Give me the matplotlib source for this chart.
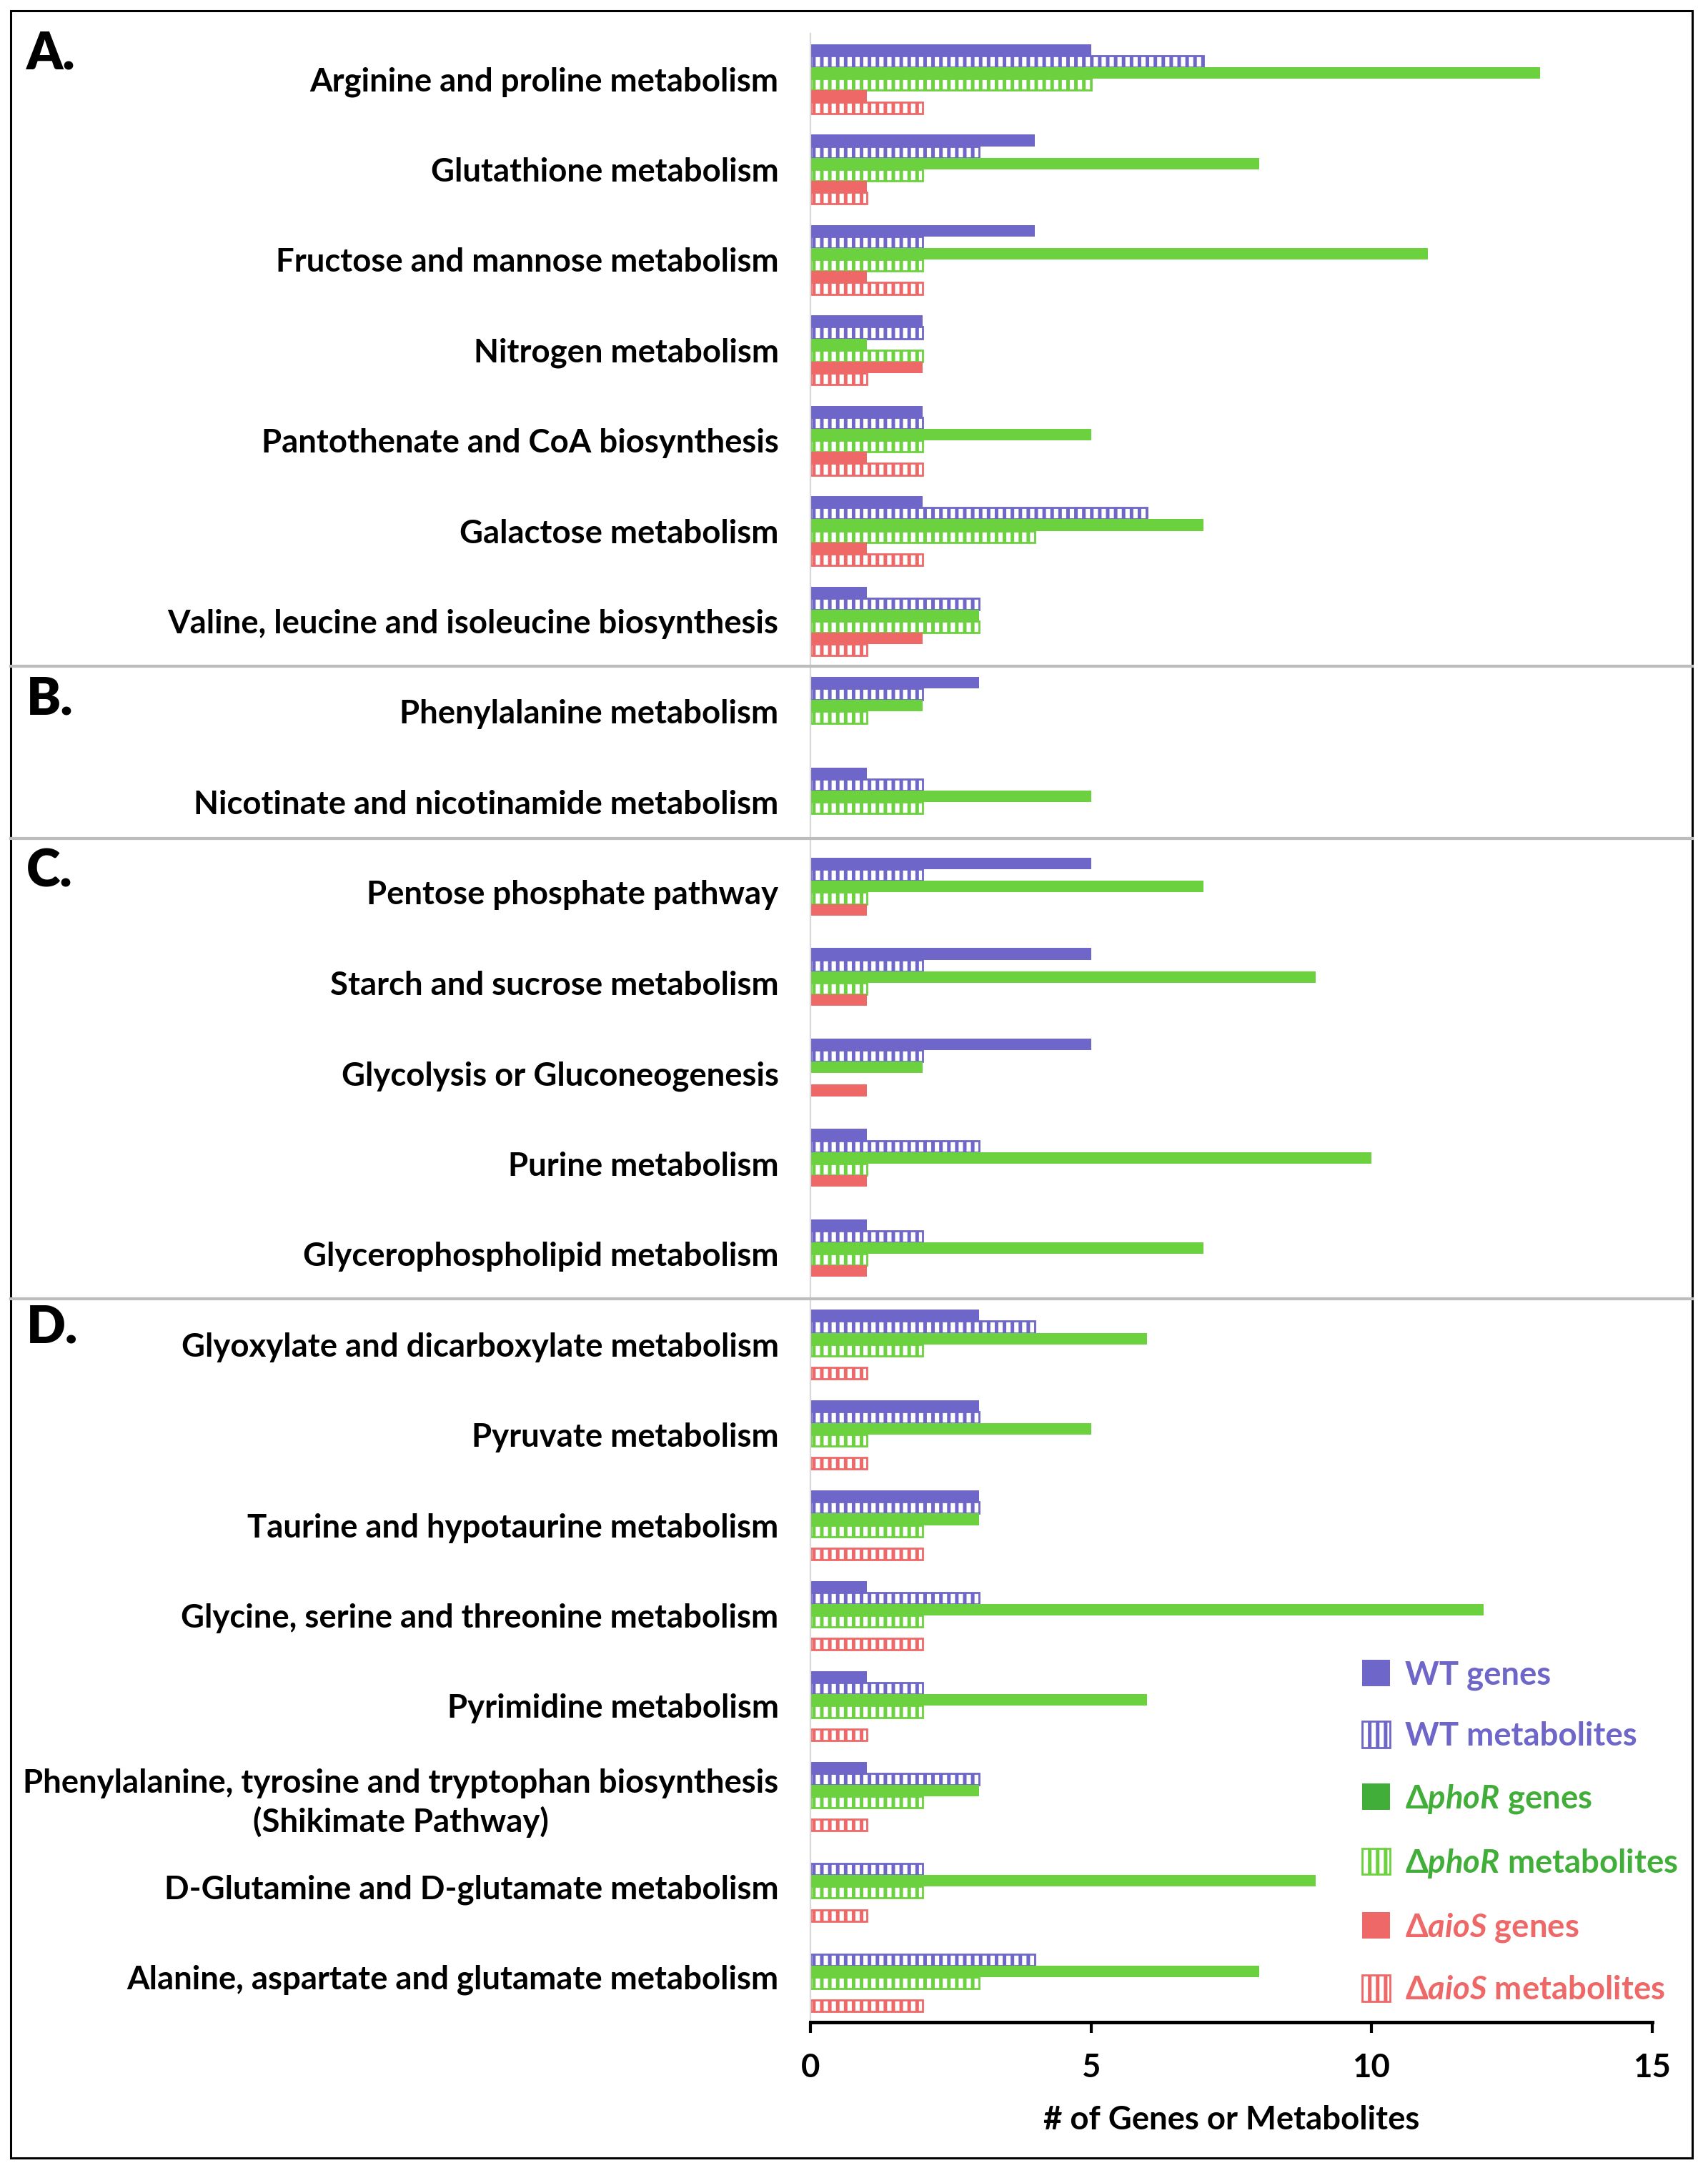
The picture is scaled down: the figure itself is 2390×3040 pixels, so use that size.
import numpy as np
import matplotlib
matplotlib.use("Agg")
import matplotlib.pyplot as plt
import matplotlib.transforms as mtransforms
from matplotlib.patches import Patch, Rectangle
from matplotlib.lines import Line2D

plt.rcParams['font.family'] = ['Lato', 'DejaVu Sans']
plt.rcParams['font.weight'] = 'bold'
plt.rcParams['mathtext.fontset'] = 'custom'
plt.rcParams['mathtext.it'] = 'Lato:italic:bold'
plt.rcParams['mathtext.rm'] = 'Lato:bold'
plt.rcParams['hatch.linewidth'] = 1.8

pathways = [
    'Arginine and proline metabolism',
    'Glutathione metabolism',
    'Fructose and mannose metabolism',
    'Nitrogen metabolism',
    'Pantothenate and CoA biosynthesis',
    'Galactose metabolism',
    'Valine, leucine and isoleucine biosynthesis',
    'Phenylalanine metabolism',
    'Nicotinate and nicotinamide metabolism',
    'Pentose phosphate pathway',
    'Starch and sucrose metabolism',
    'Glycolysis or Gluconeogenesis',
    'Purine metabolism',
    'Glycerophospholipid metabolism',
    'Glyoxylate and dicarboxylate metabolism',
    'Pyruvate metabolism',
    'Taurine and hypotaurine metabolism',
    'Glycine, serine and threonine metabolism',
    'Pyrimidine metabolism',
    'Phenylalanine, tyrosine and tryptophan biosynthesis\n(Shikimate Pathway)',
    'D-Glutamine and D-glutamate metabolism',
    'Alanine, aspartate and glutamate metabolism',
]

wt_genes   = [5, 4, 4, 2, 2, 2, 1, 3, 1, 5, 5, 5, 1, 1, 3, 3, 3, 1, 1, 1, 0, 0]
wt_mets    = [7, 3, 2, 2, 2, 6, 3, 2, 2, 2, 2, 2, 3, 2, 4, 3, 3, 3, 2, 3, 2, 4]
phor_genes = [13, 8, 11, 1, 5, 7, 3, 2, 5, 7, 9, 2, 10, 7, 6, 5, 3, 12, 6, 3, 9, 8]
phor_mets  = [5, 2, 2, 2, 2, 4, 3, 1, 2, 1, 1, 0, 1, 1, 2, 1, 2, 2, 2, 2, 2, 3]
aios_genes = [1, 1, 1, 2, 1, 1, 2, 0, 0, 1, 1, 1, 1, 1, 0, 0, 0, 0, 0, 0, 0, 0]
aios_mets  = [2, 1, 2, 1, 2, 2, 1, 0, 0, 0, 0, 0, 0, 0, 1, 1, 2, 2, 1, 1, 1, 2]

series_labels = ['WT genes', 'WT metabolites',
                 '\u0394$\\mathit{phoR}$ genes', '\u0394$\\mathit{phoR}$ metabolites',
                 '\u0394$\\mathit{aioS}$ genes', '\u0394$\\mathit{aioS}$ metabolites']

panel_letters = ['A.', 'B.', 'C.', 'D.']
panel_breaks = [6.5, 8.4, 13.5]

purple = '#6E66C8'
green = '#6CD13F'
green_dark = '#42AE3A'
red = '#EE6868'

series = [
    (wt_genes, purple, False),
    (wt_mets, purple, True),
    (phor_genes, green, False),
    (phor_mets, green, True),
    (aios_genes, red, False),
    (aios_mets, red, True),
]

fig = plt.figure(figsize=(11.95, 15.2), dpi=200)
ax = fig.add_axes([0.4745, 0.0694, 0.4929, 0.9151])

y = np.arange(len(pathways))
h = 0.1275
for k, (vals, col, hatched) in enumerate(series):
    vals = np.asarray(vals, dtype=float)
    keep = vals > 0
    pos = y[keep] + (k - 2.5) * h
    if hatched:
        ax.barh(pos, vals[keep], height=h, color='white', edgecolor=col,
                hatch='|||', linewidth=1.0)
    else:
        ax.barh(pos, vals[keep], height=h, color=col, edgecolor='none')

fs = 16.4
ax.set_xlim(0, 15)
ax.set_ylim(len(pathways) - 0.5, -0.5)
ax.set_xticks([0, 5, 10, 15])
ax.set_yticks(y)
ax.set_yticklabels(pathways, fontsize=fs, fontweight='bold')
ax.tick_params(axis='y', length=0, pad=16)
ax.tick_params(axis='x', direction='out', length=5.5, width=1.5, pad=10, labelsize=fs)
for lab in ax.get_yticklabels():
    lab.set_multialignment('center')
    lab.set_linespacing(1.3)
for s in ['top', 'right']:
    ax.spines[s].set_visible(False)
ax.spines['left'].set_color('#d9d9d9')
ax.spines['left'].set_linewidth(0.8)
ax.spines['bottom'].set_linewidth(1.8)
ax.set_xlabel('# of Genes or Metabolites', fontsize=fs, fontweight='bold', labelpad=11)

# panel separators and frame
trans = mtransforms.blended_transform_factory(fig.transFigure, ax.transData)
for b in panel_breaks:
    fig.add_artist(Line2D([0.0063, 0.9908], [b, b], transform=trans,
                          color='#bdbdbd', lw=1.5))
fig.add_artist(Rectangle((0.0063, 0.0069), 0.9845, 0.9881, transform=fig.transFigure,
                         fill=False, ec='black', lw=1.1))

letter_y = [0.9753, 0.678, 0.599, 0.389]
for letter, ly in zip(panel_letters, letter_y):
    fig.text(0.0155, ly, letter, fontsize=26, fontweight='heavy', va='center')

# legend
handles = []
for vals, col, hatched in series:
    if hatched:
        handles.append(Patch(facecolor='white', edgecolor=col, hatch='|||', linewidth=1.0))
    else:
        handles.append(Patch(facecolor=col if col != green else green_dark, edgecolor='none'))
leg = fig.legend(handles, series_labels, loc='upper left', bbox_to_anchor=(0.7975, 0.2362),
                 frameon=False, prop={'weight': 'bold', 'size': fs},
                 handlelength=0.86, handleheight=0.86, handletextpad=0.46,
                 labelspacing=0.96, borderpad=0, borderaxespad=0)
text_colors = [purple, purple, green_dark, green_dark, red, red]
for t, c in zip(leg.get_texts(), text_colors):
    t.set_color(c)

fig.savefig('out.png', dpi=200, facecolor='white')
